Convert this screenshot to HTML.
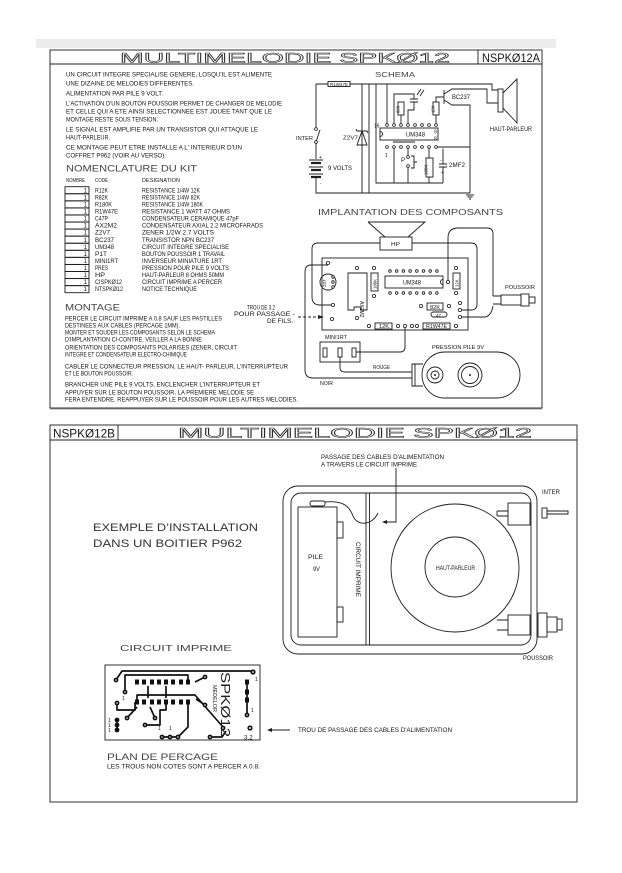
<!DOCTYPE html>
<html><head><meta charset="utf-8">
<style>
html,body{margin:0;padding:0;background:#fff;}
svg{display:block}
text{font-family:"Liberation Sans",sans-serif;fill:#151515}
.t{font-size:6.3px}
.s{font-size:5px}
.h{font-size:9px;fill:#444}
.ti{font-size:14px;fill:none;stroke:#2a2a2a;stroke-width:0.55}
.ln{fill:none;stroke:#1c1c1c;stroke-width:0.9}
.pd{fill:#fff;stroke:#1c1c1c;stroke-width:0.8}
.tr{fill:none;stroke:#111;stroke-width:1.7;stroke-linejoin:round}
</style></head><body>
<svg width="622" height="873" viewBox="0 0 622 873" xmlns="http://www.w3.org/2000/svg">
<rect x="36" y="39" width="520" height="9" fill="#ececec"/>

<!-- ================= TOP PANEL ================= -->
<g class="ln" stroke-width="1.1">
<rect x="50" y="50" width="492" height="358"/>
<line x1="50" y1="64" x2="542" y2="64"/>
<line x1="478" y1="50" x2="478" y2="64"/>
</g>
<line x1="50" y1="409" x2="542" y2="409" stroke="#999" stroke-width="1"/>
<text class="ti" x="120" y="62.5" textLength="330" lengthAdjust="spacingAndGlyphs">MULTIMELODIE SPKØ12</text>
<text x="482" y="62" style="font-size:12px" textLength="58" lengthAdjust="spacingAndGlyphs">NSPKØ12A</text>

<!-- intro text -->
<g class="t">
<text x="66" y="76.3" textLength="206" lengthAdjust="spacingAndGlyphs">UN CIRCUIT INTEGRE SPECIALISE GENERE, LOSQU'IL EST ALIMENTE</text>
<text x="66" y="85.3" textLength="128" lengthAdjust="spacingAndGlyphs">UNE DIZAINE DE MELODIES DIFFERENTES.</text>
<text x="66" y="95.3" textLength="97" lengthAdjust="spacingAndGlyphs">ALIMENTATION PAR PILE 9 VOLT.</text>
<text x="66" y="105.3" textLength="216" lengthAdjust="spacingAndGlyphs">L'ACTIVATION D'UN BOUTON POUSSOIR PERMET DE CHANGER DE MELODIE</text>
<text x="66" y="113.3" textLength="206" lengthAdjust="spacingAndGlyphs">ET CELLE QUI A ETE AINSI SELECTIONNEE EST JOUEE TANT QUE LE</text>
<text x="66" y="121.3" textLength="92" lengthAdjust="spacingAndGlyphs">MONTAGE RESTE SOUS TENSION.</text>
<text x="66" y="131.3" textLength="192" lengthAdjust="spacingAndGlyphs">LE SIGNAL EST AMPLIFIE PAR UN TRANSISTOR QUI ATTAQUE LE</text>
<text x="66" y="139.3" textLength="44" lengthAdjust="spacingAndGlyphs">HAUT-PARLEUR.</text>
<text x="66" y="149.3" textLength="176" lengthAdjust="spacingAndGlyphs">CE MONTAGE PEUT ETRE INSTALLE A L' INTERIEUR D'UN</text>
<text x="66" y="157.3" textLength="100" lengthAdjust="spacingAndGlyphs">COFFRET P962 (VOIR AU VERSO).</text>
</g>

<text class="h" x="66" y="171.5" textLength="131" lengthAdjust="spacingAndGlyphs">NOMENCLATURE DU KIT</text>
<g class="t" style="font-size:5.8px">
<text x="66" y="182" textLength="19" lengthAdjust="spacingAndGlyphs">NOMBRE</text>
<text x="95" y="182" textLength="13" lengthAdjust="spacingAndGlyphs">CODE</text>
<text x="142" y="182" textLength="38" lengthAdjust="spacingAndGlyphs">DESIGNATION</text>
</g>

<!-- nomenclature boxes -->
<g class="ln" stroke-width="0.8">
<rect x="65" y="186.7" width="24" height="7"/><rect x="65" y="193.8" width="24" height="7"/>
<rect x="65" y="200.9" width="24" height="7"/><rect x="65" y="207.9" width="24" height="7"/>
<rect x="65" y="215" width="24" height="7"/><rect x="65" y="222.1" width="24" height="7"/>
<rect x="65" y="229.1" width="24" height="7"/><rect x="65" y="236.2" width="24" height="7"/>
<rect x="65" y="243.3" width="24" height="7"/><rect x="65" y="250.3" width="24" height="7"/>
<rect x="65" y="257.4" width="24" height="7"/><rect x="65" y="264.5" width="24" height="7"/>
<rect x="65" y="271.5" width="24" height="7"/><rect x="65" y="278.6" width="24" height="7"/>
<rect x="65" y="285.7" width="24" height="7"/>
</g>
<g class="t" style="font-size:6px">
<text x="87" y="192.3" text-anchor="end">1</text><text x="87" y="199.4" text-anchor="end">1</text>
<text x="87" y="206.4" text-anchor="end">1</text><text x="87" y="213.5" text-anchor="end">1</text>
<text x="87" y="220.6" text-anchor="end">1</text><text x="87" y="227.6" text-anchor="end">1</text>
<text x="87" y="234.7" text-anchor="end">1</text><text x="87" y="241.8" text-anchor="end">1</text>
<text x="87" y="248.8" text-anchor="end">1</text><text x="87" y="255.9" text-anchor="end">1</text>
<text x="87" y="263" text-anchor="end">1</text><text x="87" y="270" text-anchor="end">1</text>
<text x="87" y="277.1" text-anchor="end">1</text><text x="87" y="284.2" text-anchor="end">1</text>
<text x="87" y="291.2" text-anchor="end">1</text>
</g>
<g class="t" style="font-size:6px">
<text x="95" y="192.3" textLength="13" lengthAdjust="spacingAndGlyphs">R12K</text>
<text x="95" y="199.4" textLength="13" lengthAdjust="spacingAndGlyphs">R82K</text>
<text x="95" y="206.4" textLength="17" lengthAdjust="spacingAndGlyphs">R180K</text>
<text x="95" y="213.5" textLength="23" lengthAdjust="spacingAndGlyphs">R1W47E</text>
<text x="95" y="220.6" textLength="13" lengthAdjust="spacingAndGlyphs">C47P</text>
<text x="95" y="227.6" textLength="22" lengthAdjust="spacingAndGlyphs">AX2M2</text>
<text x="95" y="234.7" textLength="15" lengthAdjust="spacingAndGlyphs">Z2V7</text>
<text x="95" y="241.8" textLength="19" lengthAdjust="spacingAndGlyphs">BC237</text>
<text x="95" y="248.8" textLength="19" lengthAdjust="spacingAndGlyphs">UM348</text>
<text x="95" y="255.9" textLength="12" lengthAdjust="spacingAndGlyphs">P1T</text>
<text x="95" y="263" textLength="23" lengthAdjust="spacingAndGlyphs">MINI1RT</text>
<text x="95" y="270" textLength="13" lengthAdjust="spacingAndGlyphs">PRES</text>
<text x="95" y="277.1" textLength="10" lengthAdjust="spacingAndGlyphs">HP</text>
<text x="95" y="284.2" textLength="27" lengthAdjust="spacingAndGlyphs">CISPKØ12</text>
<text x="95" y="291.2" textLength="28" lengthAdjust="spacingAndGlyphs">NTSPKØ12</text>

<text x="142" y="192.3" textLength="58" lengthAdjust="spacingAndGlyphs">RESISTANCE 1/4W 12K</text>
<text x="142" y="199.4" textLength="58" lengthAdjust="spacingAndGlyphs">RESISTANCE 1/4W 82K</text>
<text x="142" y="206.4" textLength="61" lengthAdjust="spacingAndGlyphs">RESISTANCE 1/4W 180K</text>
<text x="142" y="213.5" textLength="88" lengthAdjust="spacingAndGlyphs">RESISTANCE 1 WATT 47 OHMS</text>
<text x="142" y="220.6" textLength="97" lengthAdjust="spacingAndGlyphs">CONDENSATEUR CERAMIQUE 47pF</text>
<text x="142" y="227.6" textLength="121" lengthAdjust="spacingAndGlyphs">CONDENSATEUR AXIAL 2.2 MICROFARADS</text>
<text x="142" y="234.7" textLength="72" lengthAdjust="spacingAndGlyphs">ZENER 1/2W 2.7 VOLTS</text>
<text x="142" y="241.8" textLength="72" lengthAdjust="spacingAndGlyphs">TRANSISTOR NPN BC237</text>
<text x="142" y="248.8" textLength="87" lengthAdjust="spacingAndGlyphs">CIRCUIT INTEGRE SPECIALISE</text>
<text x="142" y="255.9" textLength="83" lengthAdjust="spacingAndGlyphs">BOUTON POUSSOIR 1 TRAVAIL</text>
<text x="142" y="263" textLength="80" lengthAdjust="spacingAndGlyphs">INVERSEUR MINIATURE 1RT</text>
<text x="142" y="270" textLength="87" lengthAdjust="spacingAndGlyphs">PRESSION POUR PILE 9 VOLTS</text>
<text x="142" y="277.1" textLength="82" lengthAdjust="spacingAndGlyphs">HAUT-PARLEUR 8 OHMS 50MM</text>
<text x="142" y="284.2" textLength="80" lengthAdjust="spacingAndGlyphs">CIRCUIT IMPRIME A PERCER</text>
<text x="142" y="291.2" textLength="55" lengthAdjust="spacingAndGlyphs">NOTICE TECHNIQUE</text>
</g>

<!-- montage -->
<text class="h" x="65" y="310.5" textLength="55" lengthAdjust="spacingAndGlyphs">MONTAGE</text>
<g class="t">
<text x="65" y="320.3" textLength="157" lengthAdjust="spacingAndGlyphs">PERCER LE CIRCUIT IMPRIME A 0.8 SAUF LES PASTILLES</text>
<text x="65" y="327.3" textLength="115" lengthAdjust="spacingAndGlyphs">DESTINEES AUX CABLES (PERCAGE 1MM).</text>
<text x="65" y="334.3" textLength="150" lengthAdjust="spacingAndGlyphs">MONTER ET SOUDER LES COMPOSANTS SELON LE SCHEMA</text>
<text x="65" y="341.3" textLength="137" lengthAdjust="spacingAndGlyphs">D'IMPLANTATION CI-CONTRE. VEILLER A LA BONNE</text>
<text x="65" y="349.3" textLength="172" lengthAdjust="spacingAndGlyphs">ORIENTATION DES COMPOSANTS POLARISES (ZENER, CIRCUIT</text>
<text x="65" y="356.3" textLength="122" lengthAdjust="spacingAndGlyphs">INTEGRE ET CONDENSATEUR ELECTRO-CHIMIQUE</text>
<text x="65" y="368.3" textLength="223" lengthAdjust="spacingAndGlyphs">CABLER LE CONNECTEUR PRESSION, LE HAUT- PARLEUR, L'INTERRUPTEUR</text>
<text x="65" y="375.3" textLength="68" lengthAdjust="spacingAndGlyphs">ET LE BOUTON POUSSOIR.</text>
<text x="65" y="386.3" textLength="195" lengthAdjust="spacingAndGlyphs">BRANCHER UNE PILE 9 VOLTS, ENCLENCHER L'INTERRUPTEUR ET</text>
<text x="65" y="394.3" textLength="189" lengthAdjust="spacingAndGlyphs">APPUYER SUR LE BOUTON POUSSOIR. LA PREMIERE MELODIE SE</text>
<text x="65" y="401.3" textLength="233" lengthAdjust="spacingAndGlyphs">FERA ENTENDRE. REAPPUYER SUR LE POUSSOIR POUR LES AUTRES MELODIES.</text>
<text x="247" y="309.3" textLength="28" lengthAdjust="spacingAndGlyphs">TROU DE 3.2</text>
<text x="234" y="316" textLength="61" lengthAdjust="spacingAndGlyphs">POUR PASSAGE -</text>
<text x="267" y="323" textLength="26" lengthAdjust="spacingAndGlyphs">DE FILS.</text>
</g>
<line x1="298" y1="317" x2="320" y2="317" class="ln" stroke-dasharray="3 2"/>
<polygon points="324,317 318,315 318,319" fill="#1c1c1c"/>

<!-- ============ SCHEMA ============ -->
<text x="375" y="77" style="font-size:7.5px;fill:#444" textLength="40" lengthAdjust="spacingAndGlyphs">SCHEMA</text>
<g class="ln">
<path d="M316 84 H328 M350 84 H492 V90 H498"/>
<path d="M316 84 V127.5 M316 143.5 V159 M316 177 V193 H470"/>
<path d="M316 142 L320 130"/>
<path d="M362 84 V193 M369 84 V193 M376 84 V183 H443"/>
<path d="M387 84 V123.5"/>
<rect x="380" y="128" width="58" height="12"/>
<path d="M380 131.5 A2.5 2.5 0 0 1 380 136.5"/>
<path d="M394 123.5 V94 H414 V99 M410 99 H418 M410 102 H418 M414 102 V110 H408 V123.5"/>
<rect x="398" y="102" width="6" height="13"/>
<path d="M401 115 V123.5"/>
<path d="M417 95 L421 89 M420 96 L424 90"/>
<rect x="433" y="102" width="6" height="13"/>
<path d="M436 115 V123.5 M436 102 V97 H444 M444 90 V104 M444 94 L452 89 H487 V103 H498 M444 100 L452 105 H470 V193"/>
<path d="M436 148.5 V147 M437.5 147 H470"/>
<path d="M394 148.5 V183 M393 142 H415 M408 148.5 V155.5 M408 167.5 V183 M411 156 H414 V168 H411 M414 162 H417"/>
<path d="M429 148.5 V158 M429 177 V183"/>
<rect x="426" y="158" width="7" height="19"/>
<path d="M443 148.5 V164 M439 164 H447 M439 167 H447 M443 167 V183"/>
<path d="M357 145 H367 L362 131 Z M356 129 L357 131 H367 L368 133"/>
<rect x="498" y="89" width="5" height="23"/>
<path d="M503 93 L517 79 V123 L503 108"/>
<path d="M466 195 H474 M467.5 197 H472.5 M469 199 H471"/>
</g>
<rect x="328" y="81.5" width="22" height="5" fill="#fff" stroke="#1c1c1c" stroke-width="0.9"/>
<text x="330" y="85.8" style="font-size:4.5px" textLength="18" lengthAdjust="spacingAndGlyphs">R1W47E</text>
<g stroke="#1c1c1c">
<line x1="309" y1="160" x2="323" y2="160" stroke-width="1"/>
<line x1="311" y1="163" x2="321" y2="163" stroke-width="2.2"/>
<line x1="309" y1="167" x2="323" y2="167" stroke-width="1"/>
<line x1="311" y1="170" x2="321" y2="170" stroke-width="2.2"/>
<line x1="309" y1="174" x2="323" y2="174" stroke-width="1"/>
<line x1="311" y1="177" x2="321" y2="177" stroke-width="2.2"/>
</g>
<g class="pd">
<circle cx="316" cy="129" r="1.4"/><circle cx="316" cy="142" r="1.4"/>
<circle cx="387" cy="125" r="1.4"/><circle cx="394" cy="125" r="1.4"/><circle cx="401" cy="125" r="1.4"/><circle cx="408" cy="125" r="1.4"/>
<circle cx="415" cy="125" r="1.4"/><circle cx="422" cy="125" r="1.4"/><circle cx="429" cy="125" r="1.4"/><circle cx="436" cy="125" r="1.4"/>
<circle cx="387" cy="147" r="1.4"/><circle cx="394" cy="147" r="1.4"/><circle cx="401" cy="147" r="1.4"/><circle cx="408" cy="147" r="1.4"/>
<circle cx="415" cy="147" r="1.4"/><circle cx="422" cy="147" r="1.4"/><circle cx="429" cy="147" r="1.4"/><circle cx="436" cy="147" r="1.4"/>
<circle cx="408" cy="157" r="1.4"/><circle cx="408" cy="166" r="1.4"/>
</g>
<g class="s">
<text x="296" y="140" textLength="17" lengthAdjust="spacingAndGlyphs">INTER</text>
<text x="319" y="159">+</text>
<text x="320" y="185">-</text>
<text x="328" y="170" class="t" textLength="24" lengthAdjust="spacingAndGlyphs">9 VOLTS</text>
<text x="343" y="139.5" textLength="15" lengthAdjust="spacingAndGlyphs">Z2V7</text>
<text x="374" y="127.5">16</text>
<text x="406" y="136.5" class="t" textLength="19" lengthAdjust="spacingAndGlyphs">UM348</text>
<text x="434" y="133.5">9</text>
<text x="434" y="140.5">8</text>
<text x="385" y="157">1</text>
<text x="401" y="162" class="t">P</text>
<text x="452" y="99" class="t" textLength="18" lengthAdjust="spacingAndGlyphs">BC237</text>
<text x="449" y="167" class="t" textLength="16" lengthAdjust="spacingAndGlyphs">2MF2</text>
<text x="441" y="174">+</text>
<text x="440" y="162">-</text>
<text x="490" y="131" class="t" textLength="42" lengthAdjust="spacingAndGlyphs">HAUT-PARLEUR</text>
<text transform="translate(399.5,113) rotate(-90)" style="font-size:4.2px">82K</text>
<text transform="translate(434.5,113) rotate(-90)" style="font-size:4.2px">12K</text>
<text transform="translate(427.5,175) rotate(-90)" style="font-size:4.5px">180K</text>
</g>

<!-- ============ IMPLANTATION ============ -->
<text x="318" y="215" style="font-size:8.5px;fill:#444" textLength="185" lengthAdjust="spacingAndGlyphs">IMPLANTATION DES COMPOSANTS</text>
<g class="ln">
<path d="M368 222 H425 L408 237 M368 222 L385 237"/>
<rect x="380" y="237" width="32" height="13"/>
<rect x="322" y="258" width="146" height="72"/>
<path d="M380 243 H318 Q312 243 312 249 V297 Q312 305 320 305 H331"/>
<path d="M412 243 H471 Q477 243 477 249 V304 Q477 310 471 310 H462"/>
<path d="M448 280 V238 Q448 228 458 228 H487 Q493 228 493 234 V296"/>
<path d="M462 317 H484 Q491 317 493 306"/>
<path d="M328 265 H311 Q305 265 305 272 V370 Q305 378 313 378 H412"/>
<circle cx="328" cy="282" r="8"/>
<path d="M348 273 H367 V310 H361 V307 H354 V310 H348 Z"/>
<rect x="371" y="273" width="7" height="18"/>
<rect x="385" y="276" width="58" height="12"/>
<path d="M443 279.5 A2.5 2.5 0 0 0 443 284.5"/>
<rect x="453" y="273" width="7" height="16"/>
<rect x="427" y="303" width="16" height="7"/>
<rect x="431" y="312" width="16" height="5" rx="2.5"/>
<rect x="375" y="323" width="17" height="6"/>
<rect x="423" y="323" width="27" height="6"/>
<rect x="320" y="342" width="40" height="20"/>
<rect x="323" y="348" width="4" height="9"/><rect x="338" y="348" width="4" height="9"/><rect x="352" y="348" width="4" height="9"/>
<path d="M340 357 V368 Q340 372 345 372 H412"/>
<path d="M356 352 H400 Q405 352 405 347 V328"/>
<path d="M493 296 H501 M493 304 H501"/>
<rect x="501" y="295" width="20" height="10"/>
<rect x="521" y="294" width="8" height="12"/>
<rect x="529" y="297" width="6" height="6"/>
<rect x="422" y="352" width="98" height="46" rx="23"/>
<path d="M423 364 H412 V386 H423 M415 364 V386"/>
<circle cx="435" cy="375" r="8"/><circle cx="435" cy="375" r="4"/>
<circle cx="470" cy="375" r="12"/><circle cx="470" cy="375" r="8.5"/>
</g>
<circle cx="435" cy="375" r="1" fill="#1c1c1c"/><circle cx="470" cy="375" r="1" fill="#1c1c1c"/>
<g class="pd">
<circle cx="328" cy="263" r="1.6"/><circle cx="333" cy="305" r="1.6"/><circle cx="332" cy="319" r="1.6"/>
<circle cx="357" cy="268" r="1.6"/><circle cx="357" cy="318" r="1.6"/><circle cx="374" cy="268" r="1.6"/><circle cx="374" cy="296" r="1.6"/>
<circle cx="333" cy="277" r="1.3"/><circle cx="333" cy="282" r="1.3"/><circle cx="333" cy="287" r="1.3"/>
<circle cx="390" cy="271" r="1.3"/><circle cx="396.7" cy="271" r="1.3"/><circle cx="403.4" cy="271" r="1.3"/><circle cx="410.1" cy="271" r="1.3"/>
<circle cx="416.8" cy="271" r="1.3"/><circle cx="423.5" cy="271" r="1.3"/><circle cx="430.2" cy="271" r="1.3"/><circle cx="436.9" cy="271" r="1.3"/>
<circle cx="390" cy="293" r="1.3"/><circle cx="396.7" cy="293" r="1.3"/><circle cx="403.4" cy="293" r="1.3"/><circle cx="410.1" cy="293" r="1.3"/>
<circle cx="416.8" cy="293" r="1.3"/><circle cx="423.5" cy="293" r="1.3"/><circle cx="430.2" cy="293" r="1.3"/><circle cx="436.9" cy="293" r="1.3"/>
<circle cx="448" cy="282" r="1.6"/><circle cx="456" cy="268" r="1.6"/><circle cx="456" cy="293" r="1.6"/>
<circle cx="421" cy="306" r="1.6"/><circle cx="449" cy="306" r="1.6"/>
<circle cx="460" cy="303" r="1.6"/><circle cx="460" cy="310" r="1.6"/><circle cx="460" cy="317" r="1.6"/>
<circle cx="369" cy="326" r="1.6"/><circle cx="398" cy="326" r="1.6"/><circle cx="405" cy="326" r="1.6"/><circle cx="412" cy="326" r="1.6"/>
<circle cx="417" cy="326" r="1.6"/><circle cx="456" cy="326" r="1.6"/>
</g>
<g class="s">
<text x="391" y="246" textLength="9" lengthAdjust="spacingAndGlyphs">HP</text>
<text transform="translate(326,287) rotate(-90)" style="font-size:4.5px">237</text>
<text transform="translate(360,301) rotate(90)" style="font-size:5px">AX2M2</text>
<text transform="translate(376.5,289) rotate(-90)" style="font-size:4.3px">180K</text>
<text x="403" y="284.5" class="t" textLength="18" lengthAdjust="spacingAndGlyphs">UM348</text>
<text transform="translate(458.5,287) rotate(-90)" style="font-size:4.3px">12K</text>
<text x="430" y="308.8" textLength="10" lengthAdjust="spacingAndGlyphs">82K</text>
<text x="436" y="316.8" style="font-size:4.5px">47</text>
<text x="379" y="328.2" textLength="10" lengthAdjust="spacingAndGlyphs">12K</text>
<text x="426" y="328.2" textLength="21" lengthAdjust="spacingAndGlyphs">R1W47E</text>
<text x="325" y="339" textLength="22" lengthAdjust="spacingAndGlyphs">MINI1RT</text>
<text x="373" y="369" textLength="17" lengthAdjust="spacingAndGlyphs">ROUGE</text>
<text x="320" y="385" textLength="13" lengthAdjust="spacingAndGlyphs">NOIR</text>
<text x="432" y="349" textLength="52" lengthAdjust="spacingAndGlyphs">PRESSION PILE 9V</text>
<text x="505" y="289" textLength="30" lengthAdjust="spacingAndGlyphs">POUSSOIR</text>
</g>

<!-- ================= BOTTOM PANEL ================= -->
<g class="ln" stroke-width="1.1">
<rect x="50" y="425" width="527" height="377"/>
<line x1="50" y1="440" x2="577" y2="440"/>
<line x1="118" y1="425" x2="118" y2="440"/>
</g>
<text x="53" y="437.5" style="font-size:12px" textLength="62" lengthAdjust="spacingAndGlyphs">NSPKØ12B</text>
<text class="ti" x="178" y="437.5" textLength="354" lengthAdjust="spacingAndGlyphs">MULTIMELODIE SPKØ12</text>

<text x="93" y="531" style="font-size:11px;fill:#333" textLength="165" lengthAdjust="spacingAndGlyphs">EXEMPLE D’INSTALLATION</text>
<text x="93" y="547" style="font-size:11px;fill:#333" textLength="149" lengthAdjust="spacingAndGlyphs">DANS UN BOITIER P962</text>

<g class="t">
<text x="321" y="459" textLength="123" lengthAdjust="spacingAndGlyphs">PASSAGE DES CABLES D'ALIMENTATION</text>
<text x="321" y="466.5" textLength="96" lengthAdjust="spacingAndGlyphs">A TRAVERS LE CIRCUIT IMPRIME</text>
</g>

<g class="ln">
<rect x="283" y="486" width="254" height="168" rx="15"/>
<rect x="291" y="493" width="240" height="152" rx="10"/>
<line x1="366" y1="493" x2="366" y2="645"/>
<line x1="369.5" y1="493" x2="369.5" y2="645"/>
<rect x="298" y="507" width="39" height="130"/>
<rect x="310" y="501" width="15" height="5" rx="2"/>
<rect x="337" y="522" width="6" height="16"/>
<rect x="337" y="607" width="6" height="15"/>
<path d="M325 502 C345 500 350 508 353 516 C357 526 372 526 378 513"/>
<path d="M396 468 V522 H386"/>
<circle cx="455" cy="568" r="64"/>
<circle cx="455" cy="567" r="30"/>
<rect x="508" y="503" width="22" height="22"/>
<path d="M497 511 H508 M497 516 H508 M497 511 V516"/>
<rect x="542" y="508" width="5" height="10"/>
<path d="M547 511 H568 V514 H547"/>
<rect x="508" y="615" width="22" height="20"/>
<path d="M497 620 H508 M497 630 H508"/>
<rect x="538" y="613" width="9" height="24"/>
<rect x="547" y="617" width="10" height="15"/>
<rect x="557" y="619" width="5" height="11"/>
</g>
<polygon points="382,522 387,520 387,524" fill="#1c1c1c"/>
<g class="t">
<text x="308" y="559" textLength="15" lengthAdjust="spacingAndGlyphs">PILE</text>
<text x="313" y="571" textLength="7" lengthAdjust="spacingAndGlyphs">9V</text>
<text transform="translate(356,542) rotate(90)" textLength="55" lengthAdjust="spacingAndGlyphs">CIRCUIT IMPRIME</text>
<text x="436" y="570" textLength="39" lengthAdjust="spacingAndGlyphs">HAUT-PARLEUR</text>
<text x="542" y="494" textLength="18" lengthAdjust="spacingAndGlyphs">INTER</text>
<text x="523" y="660" textLength="30" lengthAdjust="spacingAndGlyphs">POUSSOIR</text>
</g>

<!-- circuit imprime -->
<text x="120" y="651" style="font-size:8.5px;fill:#444" textLength="112" lengthAdjust="spacingAndGlyphs">CIRCUIT IMPRIME</text>
<rect x="105" y="665" width="155" height="75" class="ln"/>
<g class="tr">
<path d="M116 680 L122 671 H253 V673"/>
<path d="M125 692 V675 H188 V682"/>
<path d="M137 702 V695 H195 L223 727"/>
<path d="M117 703 V710 H135 V702"/>
<path d="M148 686 V698 M166 686 V698"/>
<path d="M127 718 L137 707"/>
<path d="M155 718 L150 707"/>
<path d="M145 725 H160 V710 H166 V702"/>
<path d="M162 737 H178 L188 727 V702"/>
<path d="M210 737 H222 L226 731"/>
<path d="M205 677 L195 682"/>
<path d="M205 705 L196 699"/>
<path d="M247 682 V715"/>
<path d="M117 720 V730"/>
</g>
<g fill="#111">
<circle cx="116" cy="680" r="2.4"/><circle cx="125" cy="692" r="2.4"/><circle cx="117" cy="703" r="2.4"/>
<circle cx="117" cy="720" r="2.4"/><circle cx="117" cy="725" r="2.4"/><circle cx="117" cy="730" r="2.4"/>
<circle cx="127" cy="718" r="2.4"/><circle cx="155" cy="718" r="2.4"/><circle cx="145" cy="725" r="2.4"/>
<circle cx="162" cy="737" r="2.4"/><circle cx="170" cy="737" r="2.4"/><circle cx="178" cy="737" r="2.4"/>
<circle cx="205" cy="677" r="2.4"/><circle cx="205" cy="705" r="2.4"/><circle cx="223" cy="728" r="2.4"/>
<circle cx="210" cy="737" r="2.4"/><circle cx="253" cy="672" r="2.6"/><circle cx="247" cy="715" r="2.4"/>
<circle cx="250" cy="728" r="2.6"/>
<rect x="135" y="679.5" width="4" height="5"/><rect x="142" y="679.5" width="4" height="5"/><rect x="150" y="679.5" width="4" height="5"/><rect x="157" y="679.5" width="4" height="5"/>
<rect x="164" y="679.5" width="4" height="5"/><rect x="171" y="679.5" width="4" height="5"/><rect x="179" y="679.5" width="4" height="5"/><rect x="186" y="679.5" width="4" height="5"/>
<rect x="135" y="699.5" width="4" height="5"/><rect x="142" y="699.5" width="4" height="5"/><rect x="150" y="699.5" width="4" height="5"/><rect x="157" y="699.5" width="4" height="5"/>
<rect x="164" y="699.5" width="4" height="5"/><rect x="171" y="699.5" width="4" height="5"/><rect x="179" y="699.5" width="4" height="5"/><rect x="186" y="699.5" width="4" height="5"/>
<rect x="245" y="679.5" width="4" height="5"/><rect x="245" y="689.5" width="4" height="5"/><rect x="245" y="697.5" width="4" height="5"/>
</g>
<g fill="#fff">
<circle cx="116" cy="680" r="0.8"/><circle cx="125" cy="692" r="0.8"/><circle cx="117" cy="703" r="0.8"/>
<circle cx="127" cy="718" r="0.8"/><circle cx="155" cy="718" r="0.8"/><circle cx="145" cy="725" r="0.8"/>
<circle cx="162" cy="737" r="0.8"/><circle cx="170" cy="737" r="0.8"/><circle cx="178" cy="737" r="0.8"/>
<circle cx="205" cy="677" r="0.8"/><circle cx="205" cy="705" r="0.8"/><circle cx="223" cy="728" r="0.8"/>
<circle cx="210" cy="737" r="0.8"/><circle cx="253" cy="672" r="0.9"/><circle cx="247" cy="715" r="0.8"/><circle cx="250" cy="728" r="1"/>
</g>
<g class="s">
<text x="122" y="700">1</text>
<text x="255" y="681">1</text>
<text x="251" y="712">1</text>
<text x="108" y="722">1</text><text x="108" y="727">1</text><text x="108" y="732">1</text>
<text x="158" y="730">1</text><text x="169" y="730">1</text>
<text x="244" y="739.5" class="t">3.2</text>
<text transform="translate(213,685) rotate(90)" textLength="27" lengthAdjust="spacingAndGlyphs">MEDELOR</text>
</g>
<text transform="translate(221,672) rotate(90)" style="font-size:13px;fill:#222" textLength="65" lengthAdjust="spacingAndGlyphs">SPKØ12</text>

<line x1="290" y1="730" x2="271" y2="730" class="ln"/>
<polygon points="267,730 272,728 272,732" fill="#1c1c1c"/>
<text x="298" y="732" class="t" textLength="154" lengthAdjust="spacingAndGlyphs">TROU DE PASSAGE DES CABLES D'ALIMENTATION</text>

<text x="107" y="760" style="font-size:9px;fill:#444" textLength="111" lengthAdjust="spacingAndGlyphs">PLAN DE PERCAGE</text>
<text x="107" y="768.5" class="t" textLength="153" lengthAdjust="spacingAndGlyphs">LES TROUS NON COTES SONT A PERCER A 0.8.</text>
</svg>
</body></html>
